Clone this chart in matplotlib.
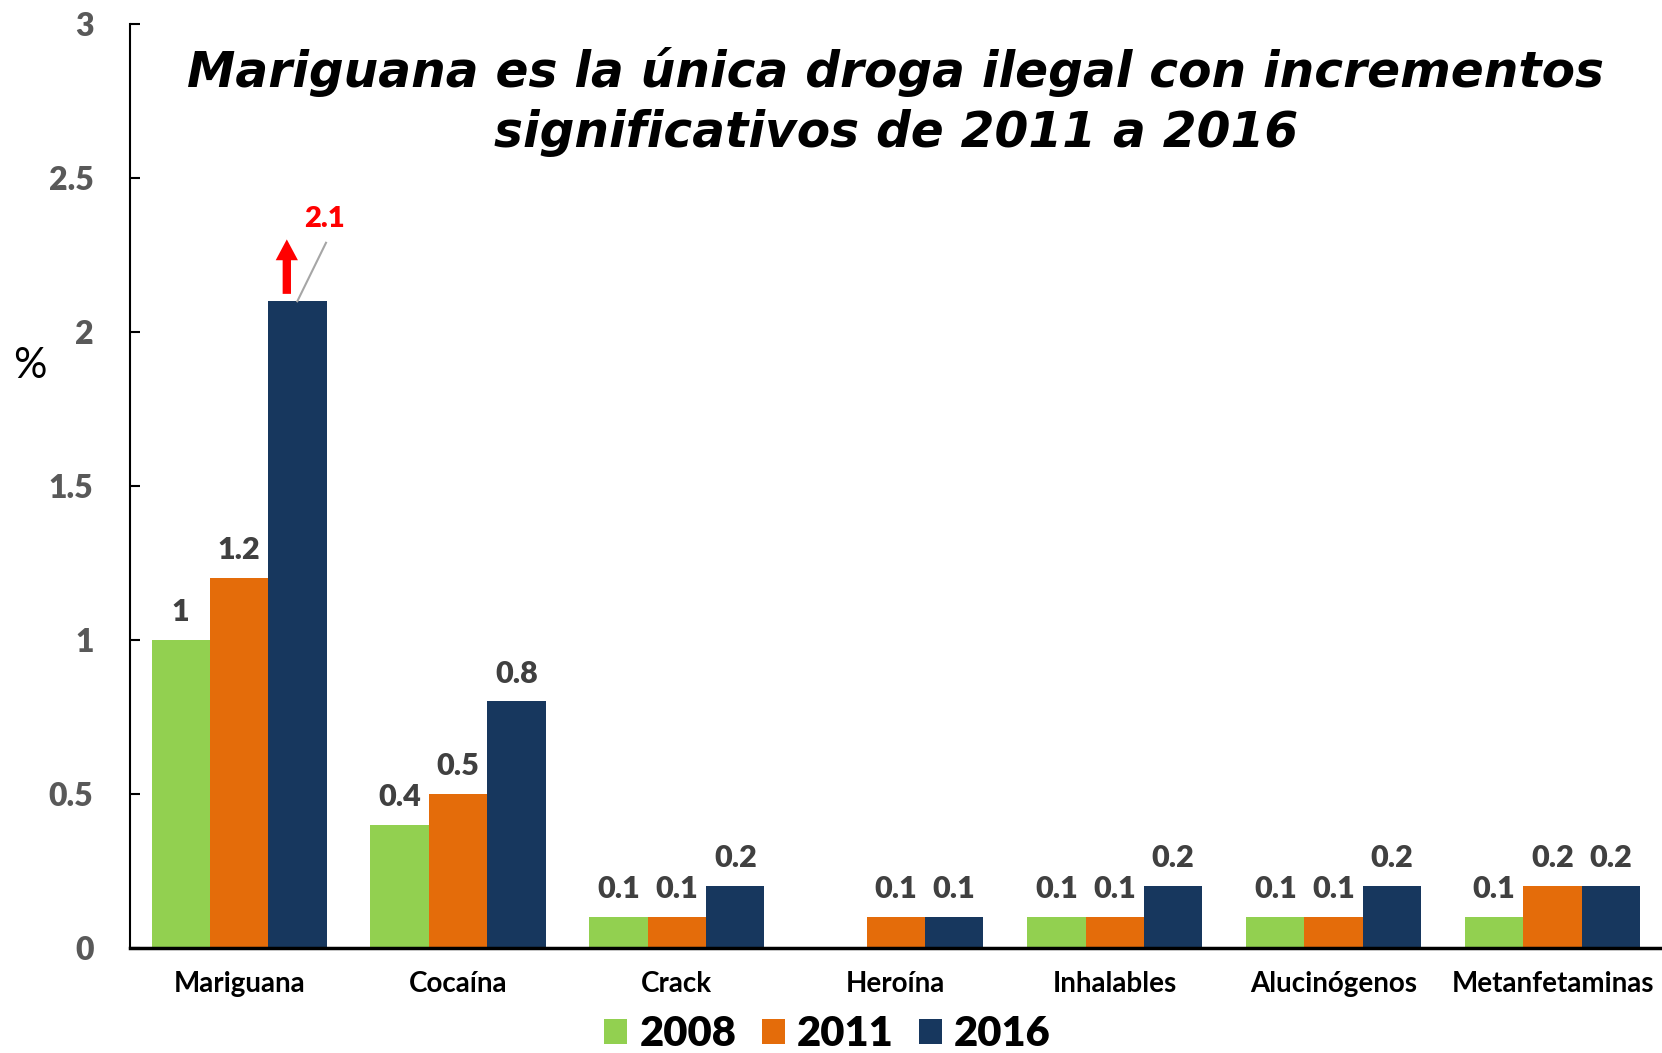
import numpy as np
import matplotlib
matplotlib.use("Agg")
import matplotlib.pyplot as plt

# data
drogas = ["Mariguana", "Cocaína", "Crack", "Heroína", "Inhalables", "Alucinógenos", "Metanfetaminas"]
anios = ["2008", "2011", "2016"]
v2008 = [1, 0.4, 0.1, np.nan, 0.1, 0.1, 0.1]
v2011 = [1.2, 0.5, 0.1, 0.1, 0.1, 0.1, 0.2]
v2016 = [2.1, 0.8, 0.2, 0.1, 0.2, 0.2, 0.2]
colores = ["#92D050", "#E46C0A", "#17375E"]

fig = plt.figure(figsize=(16.62, 10.53), dpi=100)
ax = fig.add_axes([0.078, 0.1, 0.922, 0.877])

x = np.arange(len(drogas))
w = 0.8 / 3
series = [v2008, v2011, v2016]
for i, vals in enumerate(series):
    pos = x + (i - 1) * w
    ax.bar(pos, vals, width=w, color=colores[i], label=anios[i])
    for j, (p, v) in enumerate(zip(pos, vals)):
        if np.isnan(v):
            continue
        if i == 2 and j == 0:
            continue  # etiqueta roja aparte
        ax.annotate(f"{v:g}", (p, v), xytext=(0, 10), textcoords="offset points",
                    ha="center", va="bottom", fontsize=22, fontweight="heavy",
                    color="#404040", family="Lato")

# flecha roja y etiqueta 2.1
ax.annotate("", xy=(0.218, 2.31), xytext=(0.218, 2.115),
            arrowprops=dict(arrowstyle="simple,head_length=0.75,head_width=0.8,tail_width=0.3",
                            color="red", lw=0, mutation_scale=20))
ax.plot([0.266, 0.397], [2.10, 2.29], color="#A6A6A6", lw=1.5)
ax.text(0.39, 2.325, f"{v2016[0]:g}", ha="center", va="bottom", fontsize=21,
        fontweight="heavy", color="red", family="Lato")

ax.set_xlim(-0.5, len(drogas) - 0.5)
ax.set_ylim(0, 3)
ax.set_yticks([0, 0.5, 1, 1.5, 2, 2.5, 3])
ax.set_yticklabels(["0", "0.5", "1", "1.5", "2", "2.5", "3"])
ax.set_xticks(x)
ax.set_xticklabels(drogas)
for lab in ax.get_yticklabels():
    lab.set_fontsize(23)
    lab.set_fontweight("heavy")
    lab.set_color("#595959")
    lab.set_family("Lato")
for lab in ax.get_xticklabels():
    lab.set_fontsize(20)
    lab.set_fontweight("bold")
    lab.set_color("black")
    lab.set_family("Lato")
ax.tick_params(axis="y", direction="in", length=7, width=1.5, pad=26)
ax.tick_params(axis="x", length=0, pad=17)

ax.spines["top"].set_visible(False)
ax.spines["right"].set_visible(False)
ax.spines["left"].set_linewidth(1.5)
ax.spines["bottom"].set_linewidth(2.5)

fig.text(0.018, 0.652, "%", fontsize=30, family="Lato", ha="center", va="center")

fig.text(0.539, 0.903,
         "Mariguana es la única droga ilegal con incrementos\nsignificativos de 2011 a 2016",
         ha="center", va="center", fontsize=35, fontweight="bold", style="italic",
         linespacing=1.3)

leg = fig.legend(loc="center", bbox_to_anchor=(0.498, 0.018), ncol=3, frameon=False,
                 prop=dict(family="Lato", weight="heavy", size=30),
                 handlelength=0.55, handleheight=0.55, handletextpad=0.3,
                 columnspacing=0.6, borderpad=0)

fig.savefig("out.png", dpi=100)
